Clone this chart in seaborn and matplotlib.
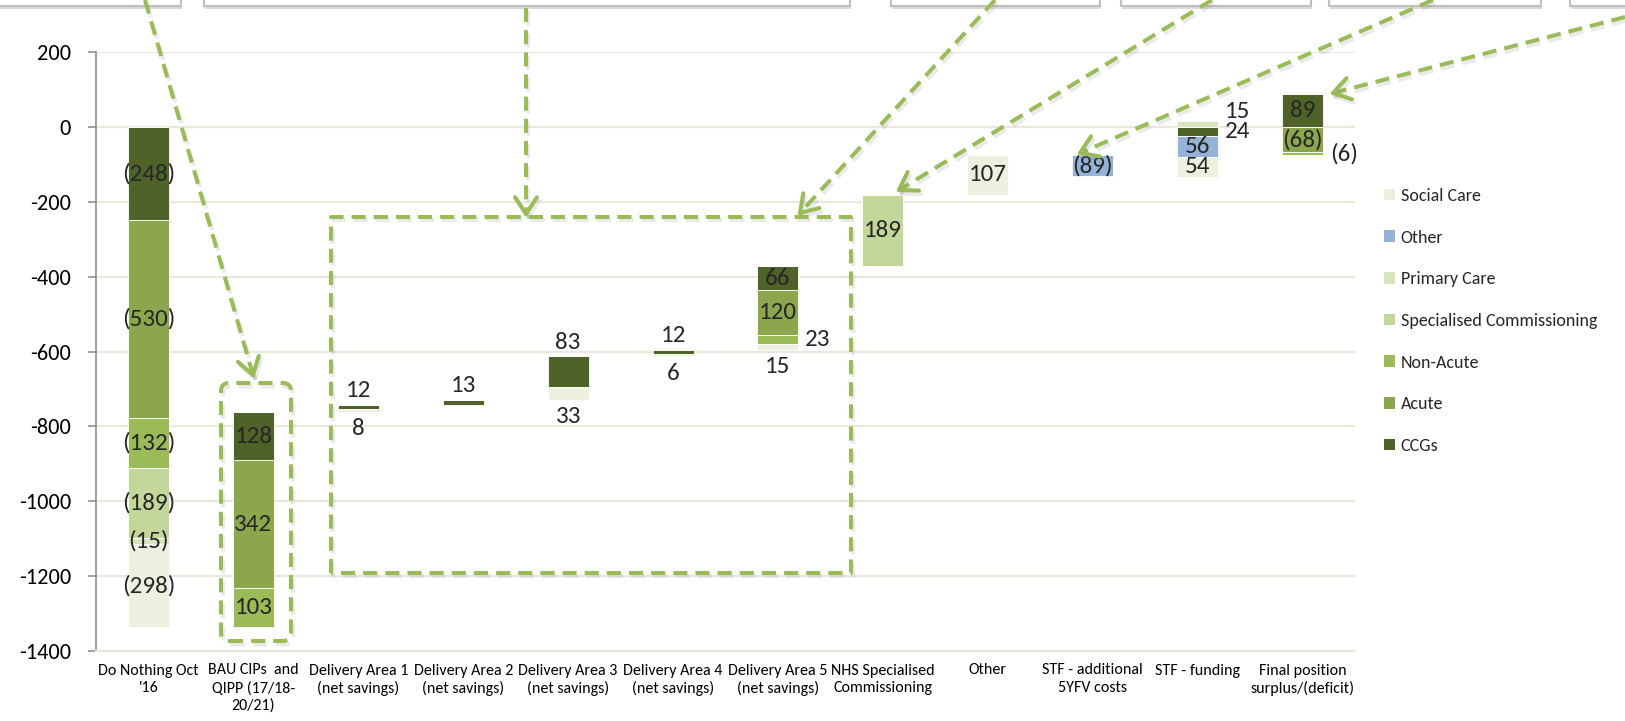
import matplotlib
matplotlib.use("Agg")
import matplotlib.pyplot as plt
import matplotlib.patheffects as pe
import numpy as np
import seaborn as sns
from matplotlib import font_manager
from matplotlib.lines import Line2D
from matplotlib.patches import FancyBboxPatch, Patch, Rectangle
from matplotlib.transforms import IdentityTransform

categories = [
    "Do Nothing Oct\n'16",
    "BAU CIPs  and\nQIPP (17/18-\n20/21)",
    "Delivery Area 1\n(net savings)",
    "Delivery Area 2\n(net savings)",
    "Delivery Area 3\n(net savings)",
    "Delivery Area 4\n(net savings)",
    "Delivery Area 5\n(net savings)",
    "NHS Specialised\nCommissioning",
    "Other",
    "STF - additional\n5YFV costs",
    "STF - funding",
    "Final position\nsurplus/(deficit)",
]

# where each floating bar starts (the invisible part of the waterfall)
bar_start = [0, -762, -742, -729, -613, -595, -371, -182, -75, -75, 0, 0]

# segment heights as drawn; negatives stack downwards, positives upwards
ccgs = [-248, -128, -12, -13, -83, -12, -66, 0, 0, 0, -24, 89]
acute = [-530, -342, 0, 0, 0, 0, -120, 0, 0, 0, 0, -68]
non_acute = [-132, -103, 0, 0, 0, 0, -23, 0, 0, 0, 0, -6]
spec_comm = [-189, 0, 0, 0, 0, 0, 0, -189, 0, 0, 0, 0]
primary_care = [-15, 0, 0, 0, 0, 0, 0, 0, 0, 0, 15, 0]
other = [0, 0, 0, 0, 0, 0, 0, 0, 0, -57, -56, 0]
social_care = [-221, 0, -8, 0, -33, -6, -15, 0, -107, 0, -54, 0]

stack_order = ["CCGs", "Acute", "Non-Acute", "Specialised Commissioning",
               "Primary Care", "Other", "Social Care"]
series_values = [ccgs, acute, non_acute, spec_comm, primary_care, other, social_care]
legend_order = ["Social Care", "Other", "Primary Care", "Specialised Commissioning",
                "Non-Acute", "Acute", "CCGs"]
colors = {
    "Social Care": "#EBF1DE",
    "Other": "#95B3D7",
    "Primary Care": "#D7E4BD",
    "Specialised Commissioning": "#C4D79B",
    "Non-Acute": "#9BBB59",
    "Acute": "#8BA64D",
    "CCGs": "#4F6228",
}

# data labels: (category, series, text, placement)
data_labels = [
    (0, "CCGs", "(248)", "in"), (0, "Acute", "(530)", "in"), (0, "Non-Acute", "(132)", "in"),
    (0, "Specialised Commissioning", "(189)", "in"), (0, "Primary Care", "(15)", "in"),
    (0, "Social Care", "(298)", "in"),
    (1, "CCGs", "128", "in"), (1, "Acute", "342", "in"), (1, "Non-Acute", "103", "in"),
    (2, "CCGs", "12", "above"), (2, "Social Care", "8", "below"),
    (3, "CCGs", "13", "above"),
    (4, "CCGs", "83", "above"), (4, "Social Care", "33", "below"),
    (5, "CCGs", "12", "above"), (5, "Social Care", "6", "below"),
    (6, "CCGs", "66", "in"), (6, "Acute", "120", "in"), (6, "Non-Acute", "23", "right"),
    (6, "Social Care", "15", "below"),
    (7, "Specialised Commissioning", "189", "in"),
    (8, "Social Care", "107", "in"),
    (9, "Other", "(89)", "in"),
    (10, "Primary Care", "15", "right_up"), (10, "CCGs", "24", "right"),
    (10, "Other", "56", "in"), (10, "Social Care", "54", "in"),
    (11, "CCGs", "89", "in"), (11, "Acute", "(68)", "in"), (11, "Non-Acute", "(6)", "right"),
]

W, H = 1625, 721
installed = {f.name for f in font_manager.fontManager.ttflist}
main_font = "Carlito" if "Carlito" in installed else "Lato"
narrow_font = "Liberation Sans Narrow" if "Liberation Sans Narrow" in installed else main_font
label_size = 17 if main_font == "Lato" else 18

sns.set_theme(style="white")
plt.rcParams["font.family"] = [main_font, "DejaVu Sans"]
plt.rcParams["axes.unicode_minus"] = False

fig = plt.figure(figsize=(W / 100, H / 100), dpi=100)
ax = fig.add_axes([96 / W, 1 - 651 / H, (1355 - 96) / W, (651 - 52) / H])

# stack every series on top of the floating starts
pos_cursor = np.array(bar_start, dtype=float)
neg_cursor = np.array(bar_start, dtype=float)
segments = {}
for name, vals in zip(stack_order, series_values):
    vals = np.array(vals, dtype=float)
    bottoms = np.where(vals < 0, neg_cursor, pos_cursor)
    sns.barplot(x=categories, y=vals, bottom=bottoms, color=colors[name], width=0.39,
                errorbar=None, linewidth=0.6, edgecolor="#FFFFFF", saturation=1, ax=ax)
    segments[name] = (bottoms.copy(), vals.copy())
    neg_cursor = np.where(vals < 0, neg_cursor + vals, neg_cursor)
    pos_cursor = np.where(vals > 0, pos_cursor + vals, pos_cursor)

bar_top = pos_cursor
bar_bottom = neg_cursor

for i, name, text, where in data_labels:
    b, v = segments[name]
    mid = b[i] + v[i] / 2
    if where == "in":
        ax.text(i, mid, text, ha="center", va="center", fontsize=label_size)
    elif where == "above":
        ax.annotate(text, (i, bar_top[i]), xytext=(0, 10), textcoords="offset points",
                    ha="center", va="center", fontsize=label_size)
    elif where == "below":
        ax.annotate(text, (i, bar_bottom[i]), xytext=(0, -12), textcoords="offset points",
                    ha="center", va="center", fontsize=label_size)
    elif where == "right":
        ax.annotate(text, (i + 0.195, mid), xytext=(5, 0), textcoords="offset points",
                    ha="left", va="center", fontsize=label_size)
    elif where == "right_up":
        ax.annotate(text, (i + 0.195, mid), xytext=(5, 9), textcoords="offset points",
                    ha="left", va="center", fontsize=label_size)

ax.set_ylim(-1400, 200)
ax.set_xlim(-0.5, len(categories) - 0.5)
ax.set_yticks(np.arange(-1400, 201, 200))
ax.set_xticks(range(len(categories)))
ax.set_xticklabels(categories, fontsize=11.5, family=narrow_font, linespacing=1.3)
ax.set_xlabel("")
ax.set_ylabel("")
ax.tick_params(axis="y", labelsize=16, length=6, width=1.1, color="#868686",
               pad=12, left=True, labelcolor="black")
ax.tick_params(axis="x", length=0, pad=9, labelcolor="black")
ax.grid(axis="y", color="#EAE8DC", linewidth=1.6)
ax.set_axisbelow(True)
for side in ["top", "right"]:
    ax.spines[side].set_visible(False)
ax.spines["left"].set_color("#868686")
ax.spines["left"].set_linewidth(1.1)
ax.spines["bottom"].set_color("#EAE8DC")
ax.spines["bottom"].set_linewidth(1.6)

handles = [Patch(facecolor=colors[n], edgecolor="none", label=n) for n in legend_order]
ax.legend(handles=handles, loc="upper left", bbox_to_anchor=(1384 / W, 1 - 188 / H),
          bbox_transform=fig.transFigure, frameon=False, fontsize=13,
          handlelength=0.62, handleheight=0.62, handletextpad=0.3,
          labelspacing=1.42, borderpad=0, borderaxespad=0)

# callouts drawn in pixel space (origin top-left of the picture)
px = IdentityTransform()
green = "#9BBB59"
shadow = [pe.SimpleLineShadow(offset=(1.5, -2.5), shadow_color="#7F7F7F", alpha=0.16),
          pe.Normal()]


def dashed(points, head=False):
    xs = [p[0] for p in points]
    ys = [H - p[1] for p in points]
    fig.add_artist(Line2D(xs, ys, transform=px, color=green, lw=2.9,
                          linestyle=(0, (3.5, 2.0)), solid_capstyle="butt",
                          path_effects=shadow))
    if head:
        (x0, y0), (x1, y1) = (xs[-2], ys[-2]), (xs[-1], ys[-1])
        d = np.array([x1 - x0, y1 - y0])
        d = d / np.hypot(*d)
        for ang in (np.radians(33), -np.radians(33)):
            rot = np.array([[np.cos(ang), -np.sin(ang)], [np.sin(ang), np.cos(ang)]])
            back = rot @ (-d) * 20
            fig.add_artist(Line2D([x1, x1 + back[0]], [y1, y1 + back[1]], transform=px,
                                  color=green, lw=2.9, solid_capstyle="round",
                                  path_effects=shadow))


for x0, x1 in [(-10, 181), (204, 850), (891, 1100), (1121, 1311), (1329, 1541), (1570, 1640)]:
    fig.add_artist(Rectangle((x0, H - 6), x1 - x0, 30, transform=px, facecolor="white",
                             edgecolor="#BFBFBF", lw=1.5,
                             path_effects=[pe.SimplePatchShadow(offset=(1, -2), alpha=0.2),
                                           pe.Normal()]))

dashed([(145, 0), (253, 375)], head=True)
dashed([(526, 8), (526, 214)], head=True)
dashed([(995, 0), (800, 213)], head=True)
dashed([(1212, 0), (899, 190)], head=True)
dashed([(1433, 0), (1080, 153)], head=True)
dashed([(1625, 17), (1333, 93)], head=True)
dashed([(331, 573), (331, 217), (851, 217), (851, 573), (331, 573)])

fig.add_artist(FancyBboxPatch((221, H - 641), 70, 258, transform=px,
                              boxstyle="round,pad=0,rounding_size=8", facecolor="none",
                              edgecolor=green, lw=2.9, linestyle=(0, (3.5, 2.0)),
                              path_effects=shadow))

fig.savefig("out.png", dpi=100)
